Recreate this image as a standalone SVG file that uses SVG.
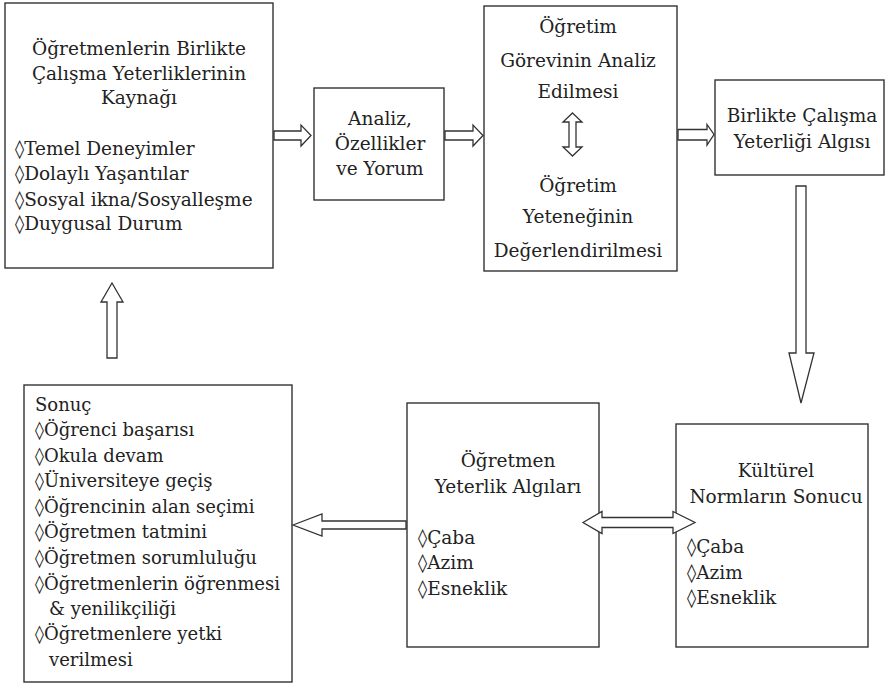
<svg xmlns="http://www.w3.org/2000/svg" width="885" height="683" viewBox="0 0 885 683">
<style>
.box{fill:#fff;stroke:#333;stroke-width:1.4}
.arr{fill:#fff;stroke:#333;stroke-width:1.3;stroke-linejoin:miter}
text{font-family:'DejaVu Serif',serif;font-size:18.5px;fill:#222}
.c{text-anchor:middle}
.s{font-size:18px}
</style>
<rect width="885" height="683" fill="#fff"/>
<g id="n1">
<rect class="box" x="5" y="3" width="268" height="265"/>
<text class="c" x="139" y="55">Öğretmenlerin Birlikte</text>
<text class="c" x="139" y="80">Çalışma Yeterliklerinin</text>
<text class="c" x="139" y="104">Kaynağı</text>
<text x="15" y="155">◊Temel Deneyimler</text>
<text x="15" y="180">◊Dolaylı Yaşantılar</text>
<text x="15" y="206">◊Sosyal ikna/Sosyalleşme</text>
<text x="15" y="230">◊Duygusal Durum</text>
</g>
<g id="n2">
<rect class="box" x="314" y="88" width="130" height="112"/>
<text class="c" x="380" y="125">Analiz,</text>
<text class="c" x="380" y="150">Özellikler</text>
<text class="c" x="380" y="175">ve Yorum</text>
</g>
<g id="n3">
<rect class="box" x="484" y="6" width="193" height="265"/>
<text class="c" x="578" y="33">Öğretim</text>
<text class="c" x="578" y="67">Görevinin Analiz</text>
<text class="c" x="578" y="98">Edilmesi</text>
<text class="c" x="578" y="192">Öğretim</text>
<text class="c" x="578" y="223">Yeteneğinin</text>
<text class="c" x="578" y="257">Değerlendirilmesi</text>
</g>
<g id="n4">
<rect class="box" x="715" y="80" width="169" height="95"/>
<text class="c" x="802" y="122">Birlikte Çalışma</text>
<text class="c" x="802" y="148">Yeterliği Algısı</text>
</g>
<g id="n5">
<rect class="box" x="676" y="424" width="192" height="223"/>
<text class="c" x="776" y="477">Kültürel</text>
<text class="c" x="776" y="503">Normların Sonucu</text>
<text x="687" y="553">◊Çaba</text>
<text x="687" y="579">◊Azim</text>
<text x="687" y="604">◊Esneklik</text>
</g>
<g id="n6">
<rect class="box" x="407" y="403" width="192" height="244"/>
<text class="c" x="508" y="467">Öğretmen</text>
<text class="c" x="508" y="493">Yeterlik Algıları</text>
<text x="418" y="544">◊Çaba</text>
<text x="418" y="569">◊Azim</text>
<text x="418" y="595">◊Esneklik</text>
</g>
<g id="n7">
<rect class="box" x="24" y="385" width="268" height="297"/>
<text class="s" x="35" y="411">Sonuç</text>
<text class="s" x="35" y="436">◊Öğrenci başarısı</text>
<text class="s" x="35" y="462">◊Okula devam</text>
<text class="s" x="35" y="487">◊Üniversiteye geçiş</text>
<text class="s" x="35" y="513">◊Öğrencinin alan seçimi</text>
<text class="s" x="35" y="538">◊Öğretmen tatmini</text>
<text class="s" x="35" y="564">◊Öğretmen sorumluluğu</text>
<text class="s" x="35" y="590">◊Öğretmenlerin öğrenmesi</text>
<text class="s" x="49" y="615">&amp; yenilikçiliği</text>
<text class="s" x="35" y="640">◊Öğretmenlere yetki</text>
<text class="s" x="49" y="666">verilmesi</text>
</g>
<g id="connectors">
<path class="arr" d="M274,131 H301 V125 L311,135.5 L301,146 V140 H274 Z"/>
<path class="arr" d="M445,131 H473 V125 L483,135.5 L473,146 V140 H445 Z"/>
<path class="arr" d="M678,129.5 H707 V124.5 L714,134.5 L707,145 V140 H678 Z"/>
<path class="arr" d="M796,186 H806 V353 H814 L801,403 L789,353 H796 Z"/>
<path class="arr" d="M583,522.5 L602,511.5 V517.5 H673 V511.5 L695,522.5 L673,533.5 V527.5 H602 V533.5 Z"/>
<path class="arr" d="M293,525 L322,514 V521 H406 V529 H322 V536 Z"/>
<path class="arr" d="M112,283 L123,302 H117 V358 H107 V302 H101 Z"/>
<path class="arr" d="M572.5,113 L582,122 H576 V147 H582 L572.5,156 L563,147 H569 V122 H563 Z"/>
</g>
</svg>
